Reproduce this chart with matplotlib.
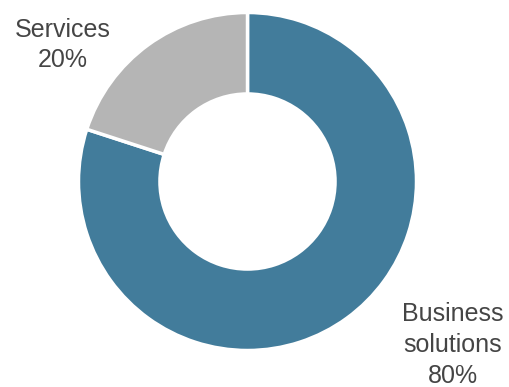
import matplotlib
matplotlib.use("Agg")
import matplotlib.pyplot as plt

# Revenue split by segment
segments = ["Business\nsolutions", "Services"]
shares = [80, 20]
colors = ["#427C9B", "#B5B5B5"]

plt.rcParams["font.family"] = ["Liberation Sans", "DejaVu Sans"]

W, H = 510, 387
fig = plt.figure(figsize=(W / 100, H / 100), dpi=100)
ax = fig.add_axes([0, 0, 1, 1])

cx, cy, r = 247.5, H - 181.5, 169
ax.pie(shares, colors=colors, startangle=90, counterclock=False,
       center=(cx, cy), radius=r, frame=True,
       wedgeprops=dict(width=r * 0.482, edgecolor="white", linewidth=2.5))
ax.set_xlim(0, W)
ax.set_ylim(0, H)
ax.set_aspect("equal")
ax.axis("off")

text_color = "#454545"
label_pos = {"Services": (63, H - 45), "Business\nsolutions": (453, H - 345)}
for name, share in zip(segments, shares):
    x, y = label_pos[name]
    ax.text(x, y, f"{name}\n{share}%", ha="center", va="center",
            fontsize=18, color=text_color, linespacing=1.36)

fig.savefig("out.png", dpi=100)
